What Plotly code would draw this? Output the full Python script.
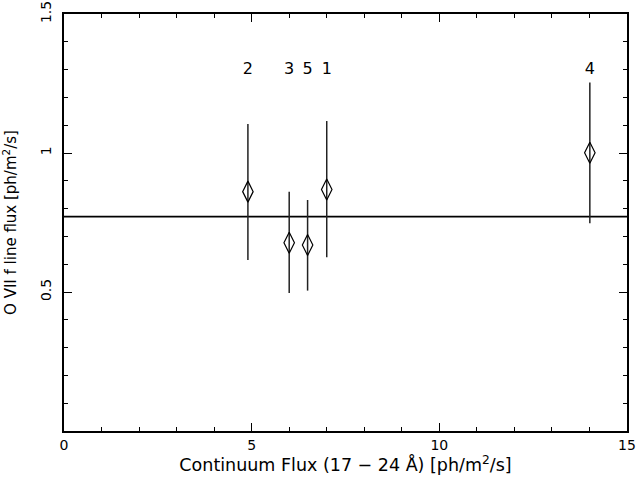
import plotly.graph_objects as go

# Data
labels = ["2", "3", "5", "1", "4"]
cont_flux = [4.90, 6.00, 6.49, 7.00, 14.01]
line_flux = [0.861, 0.677, 0.669, 0.869, 1.001]
err_plus = [0.243, 0.184, 0.162, 0.246, 0.253]
err_minus = [0.246, 0.181, 0.164, 0.244, 0.254]
label_y = [1.3, 1.3, 1.3, 1.3, 1.3]
mean_flux = 0.771
x_range = [0, 15]
y_range = [0, 1.5]
x_ticks = [0, 5, 10, 15]
y_ticks = [0.5, 1, 1.5]

FONT = "DejaVu Sans"

fig = go.Figure()

fig.add_trace(go.Scatter(
    x=x_range, y=[mean_flux, mean_flux], mode="lines",
    line=dict(color="black", width=1.8), showlegend=False, hoverinfo="skip"))

fig.add_trace(go.Scatter(
    x=cont_flux, y=line_flux, mode="markers",
    marker=dict(symbol="diamond-tall-open", size=15, color="black",
                line=dict(color="black", width=1.2)),
    error_y=dict(type="data", symmetric=False, array=err_plus,
                 arrayminus=err_minus, width=0, thickness=1.5, color="#222"),
    showlegend=False))

fig.add_trace(go.Scatter(
    x=cont_flux, y=label_y, mode="text", text=labels,
    textfont=dict(family=FONT, size=16, color="black"),
    showlegend=False, hoverinfo="skip"))

# invisible trace to carry the mirrored (top/right) tick axes
fig.add_trace(go.Scatter(
    x=x_range, y=y_range, mode="markers", marker=dict(opacity=0),
    xaxis="x2", yaxis="y2", showlegend=False, hoverinfo="skip"))

axis_common = dict(
    showgrid=False, zeroline=False, showline=True, linecolor="black",
    linewidth=1.5, ticks="inside", ticklen=8, automargin=False,
    tickwidth=1, tickcolor="black",
    tickfont=dict(family=FONT, size=14, color="black"),
)

fig.update_layout(
    xaxis=dict(
        range=x_range, tickvals=x_ticks, **axis_common,
        minor=dict(ticks="inside", ticklen=4, dtick=1, tickcolor="black", tickwidth=1),
        title=dict(text="Continuum Flux (17 \u2212 24 \u00c5) [ph/m<sup>2</sup>/s]",
                   font=dict(family=FONT, size=17.5, color="black"), standoff=6),
    ),
    yaxis=dict(
        range=y_range, tickvals=y_ticks, tickangle=-90, ticklabelstandoff=6,
        **axis_common,
        minor=dict(ticks="inside", ticklen=4, dtick=0.1, tickcolor="black", tickwidth=1),
        title=dict(text="O VII f line flux [ph/m<sup>2</sup>/s]",
                   font=dict(family=FONT, size=15, color="black"), standoff=17),
    ),
    xaxis2=dict(
        range=x_range, tickvals=x_ticks, overlaying="x", side="top",
        showticklabels=False, **axis_common,
        minor=dict(ticks="inside", ticklen=4, dtick=1, tickcolor="black", tickwidth=1),
    ),
    yaxis2=dict(
        range=y_range, tickvals=y_ticks, overlaying="y", side="right",
        showticklabels=False, **axis_common,
        minor=dict(ticks="inside", ticklen=4, dtick=0.1, tickcolor="black", tickwidth=1),
    ),
    width=638, height=478,
    margin=dict(l=64, r=11, t=14, b=47),
    paper_bgcolor="white", plot_bgcolor="white",
    font=dict(family=FONT, color="black"),
)

fig.write_html(
    "out.html",
    config={"displayModeBar": False},
    post_script="document.body.style.margin='0';document.body.style.overflow='hidden';",
)
